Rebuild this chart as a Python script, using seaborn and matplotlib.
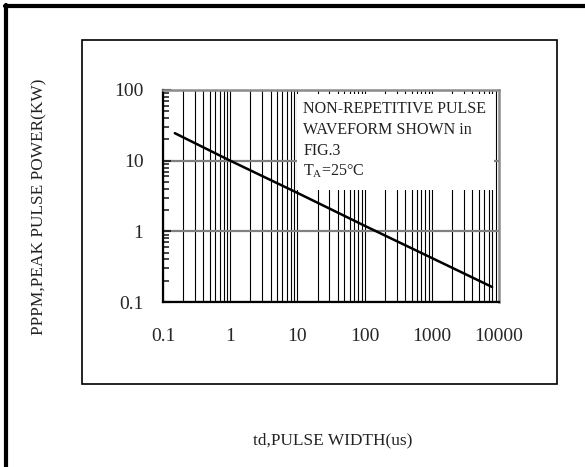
import matplotlib
matplotlib.use("Agg")
import matplotlib.pyplot as plt
import matplotlib.ticker as mticker
from matplotlib.patches import Rectangle
from matplotlib.lines import Line2D
import numpy as np
import seaborn as sns

################################################################
# data
td = [0.15, 1, 10, 100, 1000, 7900]
ppk = [24.5, 10, 3.5, 1.2, 0.42, 0.163]

x_ticks = [0.1, 1, 10, 100, 1000, 10000]
x_labels = ["0.1", "1", "10", "100", "1000", "10000"]
y_ticks = [0.1, 1, 10, 100]
y_labels = ["0.1", "1", "10", "100"]

note_lines = ["NON-REPETITIVE PULSE", "WAVEFORM SHOWN in", "FIG.3",
              r"T$_\mathregular{A}$=25°C"]

sns.set_style("white")
plt.rcParams['font.family'] = ['Liberation Serif', 'DejaVu Serif']
plt.rcParams['mathtext.fontset'] = 'custom'
plt.rcParams['mathtext.rm'] = 'Liberation Serif'

fig = plt.figure(figsize=(5.85, 4.67), dpi=100)
ax = fig.add_axes([0.2786, 0.3533, 0.5744, 0.454])

sns.lineplot(x=td, y=ppk, ax=ax, color="black", lw=1.8, zorder=5)

ax.set_xscale("log")
ax.set_yscale("log")
ax.set_xlim(0.1, 10000)
ax.set_ylim(0.1, 100)

# vertical grid at every major + minor position
ax.set_xticks(x_ticks)
ax.set_xticklabels(x_labels)
ax.xaxis.set_minor_locator(mticker.LogLocator(base=10, subs=np.arange(2, 10)))
ax.xaxis.set_minor_formatter(mticker.NullFormatter())
ax.grid(True, which="both", axis="x", color="black", lw=0.8)

ax.set_yticks(y_ticks)
ax.set_yticklabels(y_labels)
ax.yaxis.set_minor_locator(mticker.LogLocator(base=10, subs=np.arange(2, 10)))
ax.yaxis.set_minor_formatter(mticker.NullFormatter())
ax.grid(True, which="major", axis="y", color="#808080", lw=1.6)

ax.tick_params(axis="y", which="major", direction="in", length=6, width=1.5,
               left=True, pad=14, labelsize=14)
ax.tick_params(axis="y", which="minor", direction="in", length=4, width=1.2, left=True)
ax.tick_params(axis="x", which="both", length=0, pad=19, labelsize=14)

for side in ["left", "bottom"]:
    ax.spines[side].set_color("black")
    ax.spines[side].set_linewidth(1.6)
for side in ["top", "right"]:
    ax.spines[side].set_color("#8c8c8c")
    ax.spines[side].set_linewidth(1.8)

ax.set_xlabel("")
ax.set_ylabel("")

# white note box over the grid
ax.add_patch(Rectangle((0.399, 0.526), 0.586, 0.455, transform=ax.transAxes,
                       facecolor="white", edgecolor="none", zorder=3))
note_y = [0.911, 0.812, 0.714, 0.615]
for s, yy in zip(note_lines, note_y):
    ax.text(0.417, yy, s, transform=ax.transAxes, fontsize=11.5,
            va="center", ha="left", color="#222222", zorder=6)

# frames
fig.add_artist(Rectangle((0.140, 0.178), 0.812, 0.736, transform=fig.transFigure,
                         fill=False, edgecolor="black", lw=1.2))
fig.add_artist(Line2D([0.009, 1.0], [0.988, 0.988], transform=fig.transFigure,
                      color="black", lw=3))
fig.add_artist(Line2D([0.011, 0.011], [0.0, 0.99], transform=fig.transFigure,
                      color="black", lw=3))

fig.text(0.568, 0.056, "td,PULSE WIDTH(us)", ha="center", va="center",
         fontsize=12.4, color="#222222")
fig.text(0.068, 0.557, "PPPM,PEAK PULSE POWER(KW)", ha="center", va="center",
         rotation=90, fontsize=12.4, color="#222222")

fig.savefig("out.png", dpi=100)
